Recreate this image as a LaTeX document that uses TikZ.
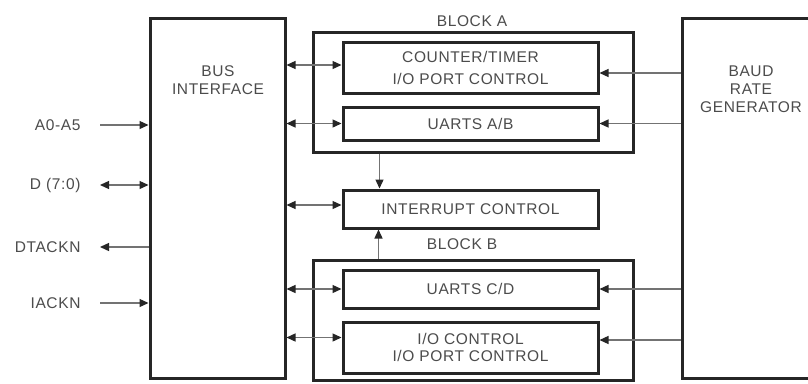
\documentclass[tikz,border=0pt]{standalone}
\usepackage{fontspec}
\setmainfont{Liberation Sans}[LetterSpace=4]
\usetikzlibrary{arrows.meta}

\tikzset{
  blk/.style={draw=black!85, line width=3pt, minimum width=255pt},
  grp/.style={draw=black!85, line width=3pt, minimum width=320pt},
  tall/.style={draw=black!85, line width=3pt, minimum height=360pt},
  txt/.style={text=black!70, font=\fontsize{15.5}{18}\selectfont, align=center},
  link/.style={draw=black!55, line width=1.3pt, -{Triangle[length=9pt,width=8pt,color=black!85]}},
  dlink/.style={link, {Triangle[length=9pt,width=8pt,color=black!85]}-{Triangle[length=9pt,width=8pt,color=black!85]}}
}

\begin{document}
\begin{tikzpicture}[x=1pt, y=-1pt]
    \useasboundingbox[fill=white] (0,0) rectangle (808,383);
    \clip (0,0) rectangle (808,383);

    % Side blocks
    \node[tall, minimum width=135pt] (bus) at (217.5,198) {};
    \node[txt, anchor=north] (bustxt) at (218,62) {BUS\\INTERFACE};
    \node[tall, minimum width=160pt] (baud) at (762,198) {};
    \node[txt, anchor=north] (baudtxt) at (751,62) {BAUD\\RATE\\GENERATOR};

    % Block A
    \node[grp, minimum height=120pt] (blkA) at (473,92) {};
    \node[txt] (blkAtxt) at (472,21) {BLOCK A};
    \node[blk, txt, minimum height=51pt, font=\fontsize{15.5}{22}\selectfont] (ctr) at (470.5,67.5) {COUNTER/TIMER\\I/O PORT CONTROL};
    \node[blk, txt, minimum height=33pt] (uab) at (470.5,123.5) {UARTS A/B};

    % Interrupt control
    \node[blk, txt, minimum height=38pt] (intr) at (470.5,209) {INTERRUPT CONTROL};

    % Block B
    \node[grp, minimum height=120pt] (blkB) at (473,320) {};
    \node[txt] (blkBtxt) at (462,244) {BLOCK B};
    \node[blk, txt, minimum height=38pt] (ucd) at (470.5,289) {UARTS C/D};
    \node[blk, txt, minimum height=51pt, font=\fontsize{15.5}{17}\selectfont] (ioc) at (470.5,347.5) {I/O CONTROL\\I/O PORT CONTROL};

    % Pin points on the boxes
    \coordinate (ctrL) at ([yshift=2.5pt]ctr.west);
    \coordinate (ctrR) at ([yshift=-5.5pt]ctr.east);
    \coordinate (intrL) at ([yshift=4pt]intr.west);
    \coordinate (iocL) at ([yshift=10pt]ioc.west);
    \coordinate (iocR) at ([yshift=7.5pt]ioc.east);

    % Bus interface <-> blocks
    \draw[dlink] (bus.east |- ctrL) -- (ctrL);
    \draw[dlink] (bus.east |- uab.west) -- (uab.west);
    \draw[dlink] (bus.east |- intrL) -- (intrL);
    \draw[dlink] (bus.east |- ucd.west) -- (ucd.west);
    \draw[dlink] (bus.east |- iocL) -- (iocL);

    % Baud rate generator -> blocks
    \draw[link] (baud.west |- ctrR) -- (ctrR);
    \draw[link] (baud.west |- uab.east) -- (uab.east);
    \draw[link] (baud.west |- ucd.east) -- (ucd.east);
    \draw[link] (baud.west |- iocR) -- (iocR);

    % Blocks -> interrupt control
    \coordinate (va) at ([xshift=38pt]intr.north west);
    \coordinate (vb) at ([xshift=37pt]intr.south west);
    \draw[link] (blkA.south -| va) -- (va);
    \draw[link] (blkB.north -| vb) -- (vb);

    % External signals
    \node[txt, anchor=east] (addr) at (84,125) {A0-A5};
    \node[txt, anchor=east] (data) at (84,185) {D (7:0)};
    \node[txt, anchor=east] (dtack) at (84,247) {DTACKN};
    \node[txt, anchor=east] (iack) at (84,303) {IACKN};
    \draw[link] ([xshift=16pt]addr.east) -- (bus.west |- addr);
    \draw[dlink] ([xshift=16pt]data.east) -- (bus.west |- data);
    \draw[link] (bus.west |- dtack) -- ([xshift=16pt]dtack.east);
    \draw[link] ([xshift=16pt]iack.east) -- (bus.west |- iack);
\end{tikzpicture}
\end{document}
